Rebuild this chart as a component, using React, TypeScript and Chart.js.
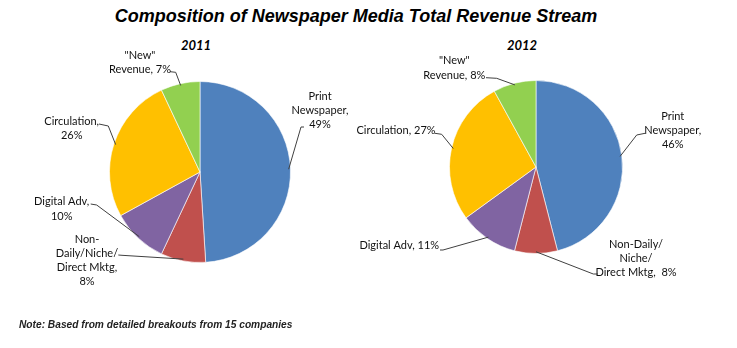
import React, { useEffect, useRef } from "react";
import { Chart, registerables } from "chart.js";
Chart.register(...registerables);

// ---- data ----
const categories = ["Print Newspaper", "Non-Daily/Niche/Direct Mktg", "Digital Adv", "Circulation", "\"New\" Revenue"];
const values2011 = [49, 8, 10, 26, 7];
const values2012 = [46, 8, 11, 27, 8];
const labelTemplates2011 = ["Print\nNewspaper,\n{v}%", "Non-\nDaily/Niche/\nDirect Mktg,\n{v}%", "Digital Adv,\n{v}%", "Circulation,\n{v}%", "\"New\"\nRevenue, {v}%"];
const labelTemplates2012 = ["Print\nNewspaper,\n{v}%", "Non-Daily/\nNiche/\nDirect Mktg,  {v}%", "Digital Adv, {v}%", "Circulation, {v}%", "\"New\"\nRevenue, {v}%"];
const titleText = "Composition of Newspaper Media Total Revenue Stream";
const years = ["2011", "2012"];
const noteText = "Note: Based from detailed breakouts from 15 companies";

// ---- styles / layout ----
const colors = ["#4F81BD", "#C0504D", "#8064A2", "#FFC000", "#92D050"];
type Lay = { text: [number, number]; start: [number, number]; elbow: [number, number] };
const layout2011: Lay[] = [
  { text: [120, -76], start: [104, -45], elbow: [101, -45] },
  { text: [-113, 67], start: [-81.7, 83], elbow: [-78, 83.3] },
  { text: [-138.3, 29.7], start: [-109.3, 32], elbow: [-103.3, 33] },
  { text: [-128.3, -51], start: [-101, -48], elbow: [-91.7, -46] },
  { text: [-60, -117], start: [-30, -100.3], elbow: [-24.3, -99.7] },
];
const layout2012: Lay[] = [
  { text: [136.7, -51], start: [109, -33.7], elbow: [100.7, -32] },
  { text: [100, 77], start: [61.7, 107], elbow: [57.3, 107] },
  { text: [-136.7, 78.7], start: [-96, 83], elbow: [-93, 83] },
  { text: [-140, -36.3], start: [-101, -33.7], elbow: [-94.3, -32.7] },
  { text: [-81.7, -106.3], start: [-50, -89.3], elbow: [-39.3, -88.7] },
];
const LABEL_FONT = "11px Lato";
const LINE_H = 14.3;

function makeLeaderPlugin(templates: string[], values: number[], layout: Lay[]) {
  return {
    id: "leaders",
    afterDatasetsDraw(chart: any) {
      const ctx = chart.ctx as CanvasRenderingContext2D;
      const meta = chart.getDatasetMeta(0);
      ctx.save();
      ctx.font = LABEL_FONT;
      ctx.fillStyle = "#111";
      ctx.strokeStyle = "#404040";
      ctx.lineWidth = 1;
      ctx.textAlign = "center";
      ctx.textBaseline = "middle";
      meta.data.forEach((arc: any, i: number) => {
        const p = arc.getProps(["x", "y", "startAngle", "endAngle", "outerRadius"], true);
        const mid = (p.startAngle + p.endAngle) / 2;
        const ex = p.x + Math.cos(mid) * p.outerRadius * 0.98;
        const ey = p.y + Math.sin(mid) * p.outerRadius * 0.98;
        const L = layout[i];
        ctx.beginPath();
        ctx.moveTo(p.x + L.start[0], p.y + L.start[1]);
        ctx.lineTo(p.x + L.elbow[0], p.y + L.elbow[1]);
        ctx.lineTo(ex, ey);
        ctx.stroke();
        const lines = templates[i].replace("{v}", String(values[i])).split("\n");
        lines.forEach((s, j) => ctx.fillText(s, p.x + L.text[0], p.y + L.text[1] + j * LINE_H));
      });
      ctx.restore();
    },
  };
}

function PieCanvas({ values, templates, layout, padding }: any) {
  const ref = useRef<HTMLCanvasElement>(null);
  useEffect(() => {
    const chart = new Chart(ref.current!, {
      type: "pie",
      data: {
        labels: categories,
        datasets: [{ data: values, backgroundColor: colors, borderColor: "rgba(255,255,255,0.6)", borderWidth: 1, hoverOffset: 0, offset: 0 }],
      },
      options: {
        responsive: false,
        animation: false,
        events: [],
        layout: { padding },
        plugins: { legend: { display: false }, tooltip: { enabled: false }, title: { display: false } },
      },
      plugins: [makeLeaderPlugin(templates, values, layout)],
    } as any);
    return () => chart.destroy();
  }, []);
  return <canvas ref={ref} width={737} height={348} style={{ position: "absolute", left: 0, top: 0, width: 737, height: 348 }} />;
}

export default function App() {
  return (
    <div style={{ position: "fixed", left: 0, top: 0, width: 737, height: 348, background: "#fff", overflow: "hidden" }}>
      <div style={{ position: "absolute", left: 56, width: 600, top: 6, lineHeight: "20px", textAlign: "center", font: "italic bold 18px 'Liberation Sans', Arial, sans-serif", color: "#000" }}>{titleText}</div>
      <div style={{ position: "absolute", left: 146, width: 100, top: 37, lineHeight: "16px", textAlign: "center", font: "italic bold 13px Lato, sans-serif", color: "#000" }}>{years[0]}</div>
      <div style={{ position: "absolute", left: 472, width: 100, top: 37, lineHeight: "16px", textAlign: "center", font: "italic bold 13px Lato, sans-serif", color: "#000" }}>{years[1]}</div>
      <PieCanvas values={values2011} templates={labelTemplates2011} layout={layout2011} padding={{ left: 109, right: 446, top: 81, bottom: 85 }} />
      <PieCanvas values={values2012} templates={labelTemplates2012} layout={layout2012} padding={{ left: 449, right: 114, top: 80, bottom: 94 }} />
      <div style={{ position: "absolute", left: 19, top: 319, lineHeight: "12px", font: "italic bold 10.2px 'Liberation Sans', Arial, sans-serif", color: "#222", whiteSpace: "nowrap" }}>{noteText}</div>
    </div>
  );
}
